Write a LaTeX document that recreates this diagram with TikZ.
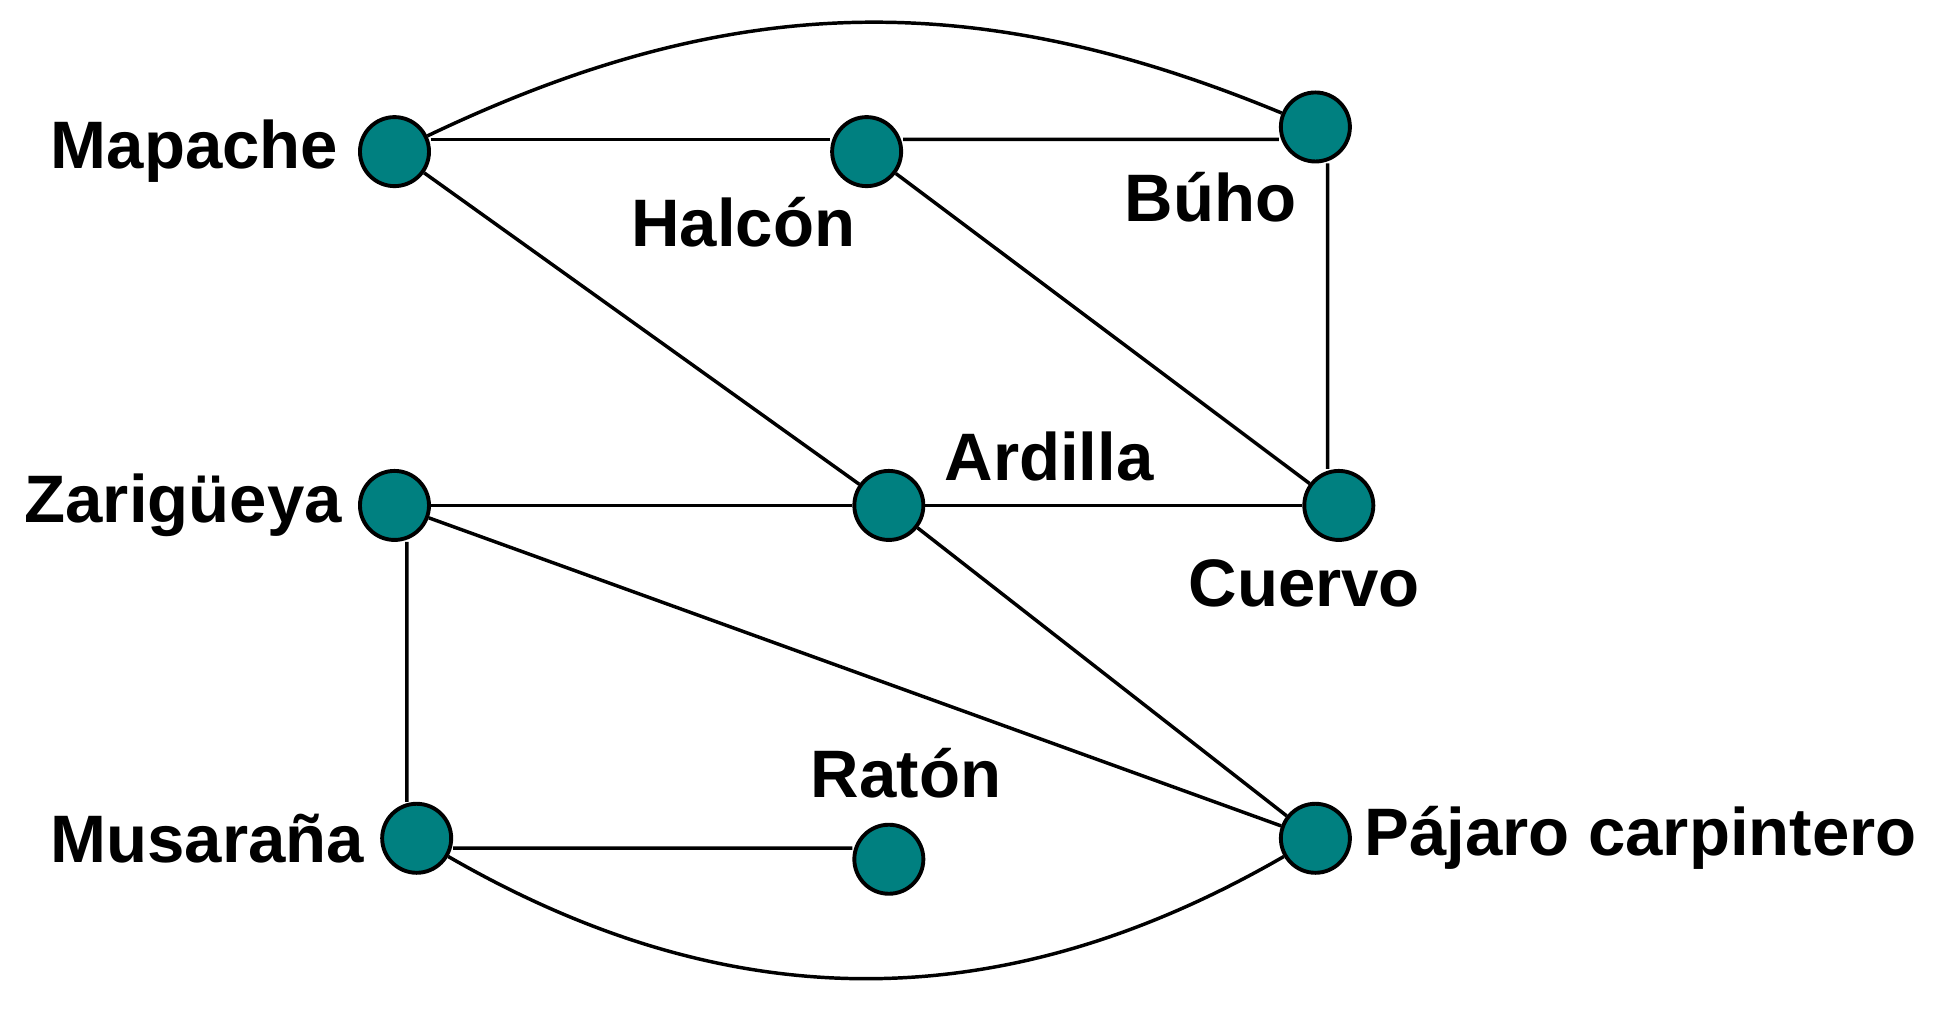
\documentclass[tikz,border=0pt]{standalone}
\usepackage{fontspec}
\setmainfont{Liberation Sans}
\definecolor{tealnode}{RGB}{0,128,128}
\tikzset{
  animal/.style={circle,draw=black,fill=tealnode,line width=0.9pt,minimum size=5.6mm,inner sep=0pt},
  tag/.style={font=\fontsize{15.5}{18}\selectfont\bfseries,inner sep=0pt},
  edge/.style={line width=0.8pt}
}
\begin{document}
\begin{tikzpicture}
\useasboundingbox (0,0) rectangle (15.68,8.40);
\node(Map) at (3.20,7.17) [animal]{};
\node(Hal) at (7.03,7.17) [animal]{};
\node(Buh) at (10.67,7.37) [animal]{};
\node(Zar) at (3.20,4.30) [animal]{};
\node(Ard) at (7.21,4.30) [animal]{};
\node(Cue) at (10.86,4.30) [animal]{};
\node(Mus) at (3.38,1.60) [animal]{};
\node(Rat) at (7.21,1.43) [animal]{};
\node(Paj) at (10.67,1.60) [animal]{};

\node(MapL) at (2.75,7.17) [tag,anchor=east]{Mapache};
\node(HalL) at (6.03,6.60) [tag]{Halcón};
\node(BuhL) at (9.82,6.80) [tag]{Búho};
\node(ZarL) at (2.78,4.30) [tag,anchor=east]{Zarigüeya};
\node(ArdL) at (8.51,4.70) [tag]{Ardilla};
\node(CueL) at (10.58,3.67) [tag]{Cuervo};
\node(MusL) at (2.96,1.60) [tag,anchor=east]{Musaraña};
\node(RatL) at (7.35,2.13) [tag]{Ratón};
\node(PajL) at (11.06,1.60) [tag,anchor=west]{Pájaro carpintero};

\draw[edge] ([yshift=1mm]Map.east) -- ([yshift=1mm]Hal.west);
\draw[edge] ([yshift=1mm]Hal.east) -- ([yshift=-1mm]Buh.west);
\draw[edge] (Map) to[bend left=24] (Buh);
\draw[edge] (Map) -- (Ard);
\draw[edge] (Hal) -- (Cue);
\draw[edge] ([xshift=1mm]Buh.south) -- ([xshift=-0.9mm]Cue.north);
\draw[edge] (Zar) -- (Ard);
\draw[edge] (Ard) -- (Cue);
\draw[edge] (Zar) -- (Paj);
\draw[edge] (Ard) -- (Paj);
\draw[edge] ([xshift=1mm]Zar.south) -- ([xshift=-0.8mm]Mus.north);
\draw[edge] ([yshift=-0.8mm]Mus.east) -- ([yshift=0.9mm]Rat.west);
\draw[edge] (Mus) to[bend right=30] (Paj);
\end{tikzpicture}
\end{document}
